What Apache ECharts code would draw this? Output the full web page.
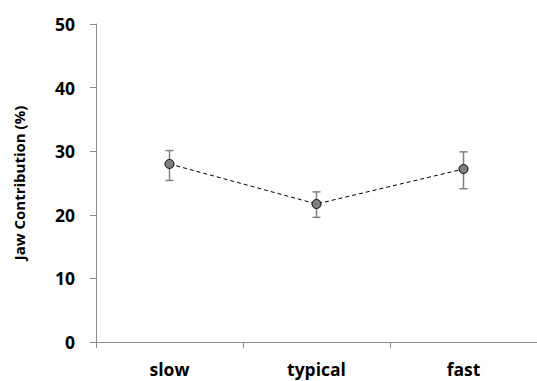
<!DOCTYPE html>
<html>
<head>
<meta charset="utf-8">
<script src="https://cdn.jsdelivr.net/npm/echarts@6/dist/echarts.min.js"></script>
<style>
  html, body { margin: 0; padding: 0; background: #fff; }
  #chart { width: 537px; height: 381px; }
</style>
</head>
<body>
<div id="chart"></div>
<script>
var categories = ['slow', 'typical', 'fast'];
var means = [28.0, 21.7, 27.2];
var errLow = [25.4, 19.6, 24.1];
var errHigh = [30.1, 23.6, 29.9];

var font = '"Open Sans", sans-serif';
var axisGray = '#8c8c8c';

var chart = echarts.init(document.getElementById('chart'), null, { renderer: 'svg' });

var errData = categories.map(function (c, i) { return [i, errLow[i], errHigh[i]]; });

chart.setOption({
  animation: false,
  grid: { left: 96, top: 24, width: 444, bottom: 39, containLabel: false },
  xAxis: {
    type: 'category',
    data: categories,
    boundaryGap: true,
    axisLine: { lineStyle: { color: axisGray, width: 1 } },
    axisTick: { show: true, alignWithLabel: false, length: 6, lineStyle: { color: axisGray } },
    axisLabel: { color: '#000', fontSize: 17.5, fontWeight: 'bold', fontFamily: font, margin: 18 }
  },
  yAxis: {
    type: 'value',
    min: 0, max: 50, interval: 10,
    name: 'Jaw Contribution (%)',
    nameLocation: 'middle',
    nameGap: 70,
    nameTextStyle: { color: '#000', fontSize: 15, fontWeight: 'bold', fontFamily: font },
    axisLine: { show: true, lineStyle: { color: axisGray, width: 1 } },
    axisTick: { show: true, length: 6, lineStyle: { color: axisGray } },
    splitLine: { show: false },
    axisLabel: { color: '#000', fontSize: 17.5, fontWeight: 'bold', fontFamily: font, margin: 21 }
  },
  series: [
    {
      type: 'custom',
      data: errData,
      z: 1,
      renderItem: function (params, api) {
        var x = api.value(0);
        var lo = api.coord([x, api.value(1)]);
        var hi = api.coord([x, api.value(2)]);
        var w = 4;
        var st = { stroke: '#808080', lineWidth: 1.5 };
        return {
          type: 'group',
          children: [
            { type: 'line', shape: { x1: lo[0], y1: lo[1], x2: hi[0], y2: hi[1] }, style: st },
            { type: 'line', shape: { x1: lo[0] - w, y1: lo[1], x2: lo[0] + w, y2: lo[1] }, style: st },
            { type: 'line', shape: { x1: hi[0] - w, y1: hi[1], x2: hi[0] + w, y2: hi[1] }, style: st }
          ]
        };
      }
    },
    {
      type: 'line',
      data: means,
      z: 2,
      lineStyle: { color: '#000', width: 1, type: [4, 3] },
      symbol: 'circle',
      symbolSize: 9,
      itemStyle: { color: '#7f7f7f', borderColor: '#000', borderWidth: 1 }
    }
  ]
});
</script>
</body>
</html>
